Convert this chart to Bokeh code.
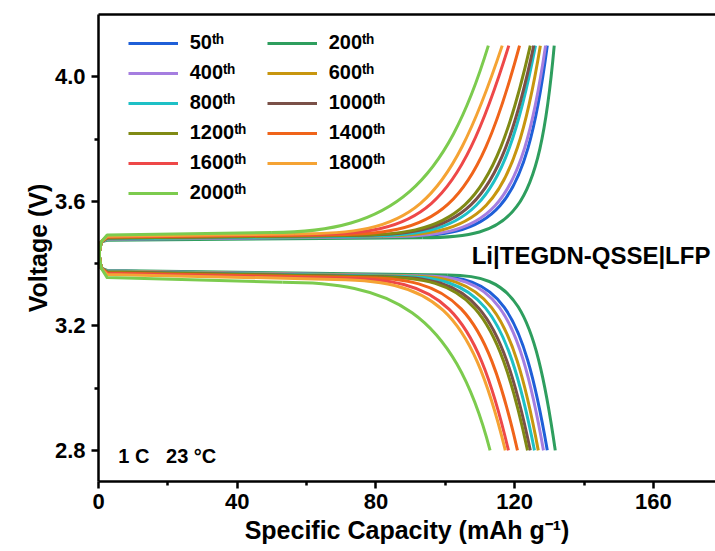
from bokeh.plotting import figure
from bokeh.models import (Range1d, FixedTicker, Legend, LegendItem, Label,
                          LinearAxis, NumeralTickFormatter)
from bokeh.embed import file_html
from bokeh.resources import INLINE

FONT = "Liberation Sans"

# ---------------- data ----------------
cycles = ["50", "200", "400", "600", "800", "1000", "1200", "1400", "1600", "1800", "2000"]
colors = ["#1F5FD8", "#2E9E5E", "#A57EE0", "#C8960E", "#1EC0C6", "#7A5048",
          "#808A14", "#F0641A", "#EE4848", "#F5A334", "#7CCB4E"]

# charge branch: start, plateau, then a smooth knee up to 4.10 V
charge_start_q = [0.0, 0.3, 0.8]
charge_start_v = [3.40, 3.44, 3.47]
charge_plateau_v = [3.478, 3.475, 3.478, 3.480, 3.480, 3.482, 3.482, 3.485, 3.486, 3.488, 3.492]
charge_knee_q = [84.4, 93.4, 81.9, 78.4, 75.0, 72.5, 70.5, 65.4, 60.3, 56.4, 50.0]
charge_knee_v = [3.486, 3.483, 3.486, 3.488, 3.488, 3.490, 3.490, 3.492, 3.494, 3.495, 3.500]
charge_c0_q = [114.6, 119.8, 113.0, 110.3, 107.2, 105.5, 103.7, 98.4, 93.2, 89.9, 85.0]
charge_c1_q = [122.8, 126.9, 121.6, 119.2, 116.3, 115.0, 113.2, 108.1, 103.1, 100.1, 100.0]
charge_c1_v = [3.547, 3.545, 3.547, 3.549, 3.549, 3.551, 3.551, 3.553, 3.555, 3.556, 3.650]
charge_end_q = [129.4, 131.4, 128.9, 127.4, 126.0, 125.5, 124.5, 121.4, 118.3, 116.4, 112.4]
charge_end_v = 4.10

# discharge branch: start, plateau, then a smooth knee down to 2.80 V
discharge_start_q = [0.0, 0.3, 0.8]
discharge_start_v = [3.46, 3.42, 3.385]
discharge_plateau_v = [3.376, 3.378, 3.376, 3.375, 3.374, 3.373, 3.372, 3.370, 3.368, 3.365, 3.355]
discharge_knee_q = [94.4, 100.7, 92.3, 88.8, 85.7, 82.5, 80.7, 74.8, 69.2, 65.3, 53.0]
discharge_knee_v = [3.361, 3.363, 3.361, 3.360, 3.359, 3.358, 3.357, 3.355, 3.353, 3.350, 3.340]
discharge_c0_q = [115.4, 119.7, 113.9, 111.6, 109.7, 107.8, 106.6, 102.5, 99.0, 97.1, 83.7]
discharge_c1_q = [122.0, 125.5, 120.7, 118.8, 117.25, 115.6, 114.65, 111.15, 108.2, 106.9, 102.1]
discharge_c1_v = [3.277, 3.279, 3.277, 3.276, 3.275, 3.274, 3.273, 3.272, 3.270, 3.2675, 3.259]
discharge_end_q = [129.4, 131.7, 128.3, 126.8, 125.7, 124.5, 123.7, 120.8, 118.2, 117.3, 112.9]
discharge_end_v = 2.80

x_major = [0, 40, 80, 120, 160]
x_minor = [20, 60, 100, 140]
y_major = [2.8, 3.2, 3.6, 4.0]
y_minor = [3.0, 3.4, 3.8]

# ---------------- figure ----------------
p = figure(width=715, height=551, output_backend="svg", toolbar_location=None,
           x_range=Range1d(0, 177.9), y_range=Range1d(2.70, 4.20),
           min_border_left=98, min_border_right=0, min_border_top=14, min_border_bottom=70,
           background_fill_color="white", border_fill_color="white")
p.outline_line_color = None
p.xgrid.visible = False
p.ygrid.visible = False

p.xaxis.ticker = FixedTicker(ticks=x_major, minor_ticks=x_minor)
p.yaxis.ticker = FixedTicker(ticks=y_major, minor_ticks=y_minor)
p.yaxis.formatter = NumeralTickFormatter(format="0.0")
p.xaxis.axis_label = "Specific Capacity (mAh g\u207b\u00b9)"
p.yaxis.axis_label = "Voltage (V)"

for ax in (p.xaxis[0], p.yaxis[0]):
    ax.axis_line_width = 2.5
    ax.major_tick_line_width = 2.5
    ax.minor_tick_line_width = 2.5
    ax.major_tick_in = 0
    ax.major_tick_out = 7
    ax.minor_tick_in = 0
    ax.minor_tick_out = 4
    ax.major_label_text_font = FONT
    ax.major_label_text_font_style = "bold"
    ax.major_label_text_font_size = "22px"
    ax.major_label_text_color = "black"
    ax.axis_label_text_font = FONT
    ax.axis_label_text_font_style = "bold"
    ax.axis_label_text_font_size = "25px"
    ax.axis_label_text_color = "black"
p.xaxis.major_label_standoff = 5
p.yaxis.major_label_standoff = 6
p.xaxis.axis_label_standoff = 4
p.yaxis.axis_label_standoff = 0

top = LinearAxis(ticker=FixedTicker(ticks=[]), axis_line_width=2.5,
                 major_tick_out=0, minor_tick_out=0, major_label_standoff=0,
                 major_label_text_font_size="0px")
p.add_layout(top, "above")

renderers = []
for i, c in enumerate(cycles):
    cx = charge_start_q + [2.5, charge_knee_q[i]]
    cy = charge_start_v + [charge_plateau_v[i], charge_knee_v[i]]
    r1 = p.line(cx, cy, line_color=colors[i], line_width=3, line_join="round")
    p.bezier(x0=[charge_knee_q[i]], y0=[charge_knee_v[i]],
             x1=[charge_end_q[i]], y1=[charge_end_v],
             cx0=[charge_c0_q[i]], cy0=[charge_knee_v[i]],
             cx1=[charge_c1_q[i]], cy1=[charge_c1_v[i]],
             line_color=colors[i], line_width=3)
    dx = discharge_start_q + [2.5, discharge_knee_q[i]]
    dy = discharge_start_v + [discharge_plateau_v[i], discharge_knee_v[i]]
    p.line(dx, dy, line_color=colors[i], line_width=3, line_join="round")
    p.bezier(x0=[discharge_knee_q[i]], y0=[discharge_knee_v[i]],
             x1=[discharge_end_q[i]], y1=[discharge_end_v],
             cx0=[discharge_c0_q[i]], cy0=[discharge_knee_v[i]],
             cx1=[discharge_c1_q[i]], cy1=[discharge_c1_v[i]],
             line_color=colors[i], line_width=3)
    renderers.append(r1)

sup = "\u1d57\u02b0"
items = [LegendItem(label=c + sup, renderers=[renderers[i]]) for i, c in enumerate(cycles)]
col1 = [items[i] for i in (0, 2, 4, 6, 8, 10)]
col2 = [items[i] for i in (1, 3, 5, 7, 9)]

def make_legend(its, loc):
    return Legend(items=its, location=loc, orientation="vertical",
                  border_line_color=None, background_fill_alpha=0,
                  label_text_font=FONT, label_text_font_style="bold",
                  label_text_font_size="20px", label_text_color="black",
                  glyph_width=50, glyph_height=24, label_height=24,
                  spacing=6, padding=0, margin=0, label_standoff=12)

p.add_layout(make_legend(col1, (29.7, 276.3)))
p.add_layout(make_legend(col2, (168.7, 306.3)))

p.add_layout(Label(x=107.6, y=3.425, text="Li|TEGDN-QSSE|LFP", text_font=FONT,
                   text_font_style="bold", text_font_size="24px",
                   text_baseline="alphabetic", text_color="black"))
p.add_layout(Label(x=5.7, y=2.782, text="1 C\u00a0\u00a0\u00a023 \u00b0C", text_font=FONT,
                   text_font_style="bold", text_font_size="20px",
                   text_baseline="alphabetic", text_color="black"))

open("out.html", "w").write(file_html(p, INLINE))
